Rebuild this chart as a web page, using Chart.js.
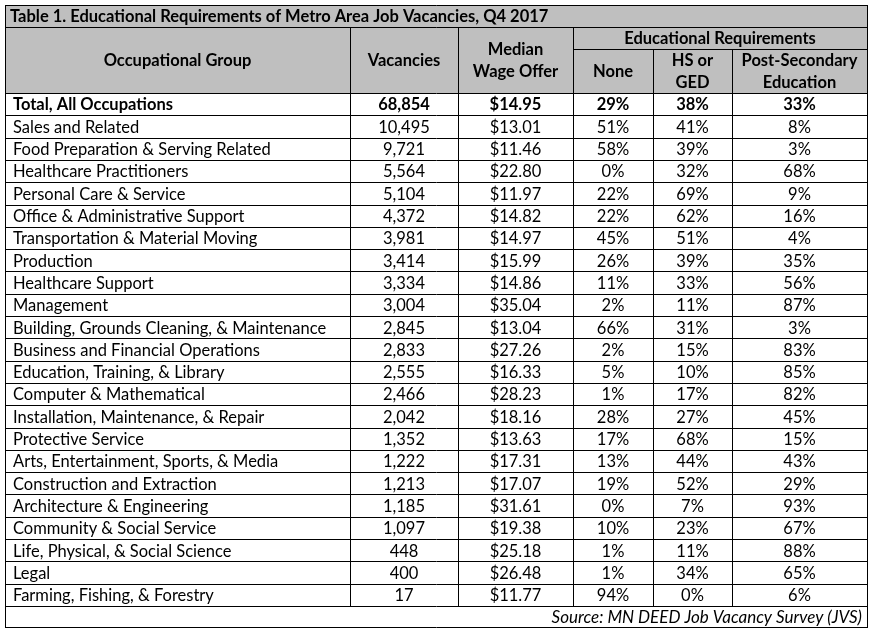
<!DOCTYPE html>
<html>
<head>
<meta charset="utf-8">
<script src="https://cdn.jsdelivr.net/npm/chart.js@4"></script>
<style>
html,body{margin:0;padding:0;background:#fff;}
#wrap{width:874px;height:634px;}
</style>
</head>
<body>
<div id="wrap"><canvas id="c" width="874" height="634"></canvas></div>
<script>
const titleText = "Table 1. Educational Requirements of Metro Area Job Vacancies, Q4 2017";
const sourceText = "Source: MN DEED Job Vacancy Survey (JVS)";
const groups = ["Total, All Occupations","Sales and Related","Food Preparation & Serving Related","Healthcare Practitioners","Personal Care & Service","Office & Administrative Support","Transportation & Material Moving","Production","Healthcare Support","Management","Building, Grounds Cleaning, & Maintenance","Business and Financial Operations","Education, Training, & Library","Computer & Mathematical","Installation, Maintenance, & Repair","Protective Service","Arts, Entertainment, Sports, & Media","Construction and Extraction","Architecture & Engineering","Community & Social Service","Life, Physical, & Social Science","Legal","Farming, Fishing, & Forestry"];
const vacancies = [68854,10495,9721,5564,5104,4372,3981,3414,3334,3004,2845,2833,2555,2466,2042,1352,1222,1213,1185,1097,448,400,17];
const wages = [14.95,13.01,11.46,22.80,11.97,14.82,14.97,15.99,14.86,35.04,13.04,27.26,16.33,28.23,18.16,13.63,17.31,17.07,31.61,19.38,25.18,26.48,11.77];
const eduNone = [29,51,58,0,22,22,45,26,11,2,66,2,5,1,28,17,13,19,0,10,1,1,94];
const eduHS = [38,41,39,32,69,62,51,39,33,11,31,15,10,17,27,68,44,52,7,23,11,34,0];
const eduPost = [33,8,3,68,9,16,4,35,56,87,3,83,85,82,45,15,43,29,93,67,88,65,6];

const FONT = "Lato, 'Open Sans', sans-serif";
const colEdges = [5,350,458,573,653,732,867];
const yTop = 5, yTitle = 27, yEdu = 49, yHead = 93, yBottom = 627;
const HEAD_BG = "#bfbfbf";

const tablePlugin = {
  id: 'tablePlugin',
  afterDraw(chart) {
    const ctx = chart.ctx;
    const xs = chart.scales.x, ys = chart.scales.y;
    const X = colEdges.map(v => Math.round(xs.getPixelForValue(v)));
    const n = groups.length;
    const rowH = (ys.getPixelForValue(1) - ys.getPixelForValue(0));
    const rowTop = i => Math.round(ys.getPixelForValue(i) - rowH/2);
    const dataBottom = rowTop(n);
    ctx.save();
    ctx.fillStyle = HEAD_BG;
    ctx.fillRect(X[0], yTop, X[6]-X[0], yHead - yTop);
    ctx.strokeStyle = "#000";
    ctx.lineWidth = 1;
    const hl = (x1,x2,y) => { ctx.beginPath(); ctx.moveTo(x1, y+0.5); ctx.lineTo(x2+1, y+0.5); ctx.stroke(); };
    const vl = (x,y1,y2) => { ctx.beginPath(); ctx.moveTo(x+0.5, y1); ctx.lineTo(x+0.5, y2+1); ctx.stroke(); };
    hl(X[0], X[6], yTop);
    hl(X[0], X[6], yTitle);
    hl(X[3], X[6], yEdu);
    hl(X[0], X[6], yHead);
    for (let i = 1; i <= n; i++) hl(X[0], X[6], rowTop(i));
    hl(X[0], X[6], yBottom);
    vl(X[0], yTop, yBottom);
    vl(X[6], yTop, yBottom);
    vl(X[1], yTitle, dataBottom);
    vl(X[2], yTitle, dataBottom);
    vl(X[3], yTitle, dataBottom);
    vl(X[4], yEdu, dataBottom);
    vl(X[5], yEdu, dataBottom);

    ctx.fillStyle = "#000";
    ctx.textBaseline = "middle";
    const bold = "bold 16.5px " + FONT, reg = "16.5px " + FONT;
    ctx.font = bold; ctx.textAlign = "left";
    ctx.fillText(titleText, X[0]+5, (yTop+yTitle)/2+1);
    ctx.textAlign = "center";
    const cx = i => (X[i]+X[i+1])/2;
    const hm = (yTitle+yHead)/2 + 1;
    ctx.fillText("Occupational Group", cx(0), hm);
    ctx.fillText("Vacancies", cx(1), hm);
    ctx.fillText("Median", cx(2), hm - 11);
    ctx.fillText("Wage Offer", cx(2), hm + 11);
    ctx.fillText("Educational Requirements", (X[3]+X[6])/2, (yTitle+yEdu)/2+1);
    const sm = (yEdu+yHead)/2 + 1;
    ctx.fillText("None", cx(3), sm);
    ctx.fillText("HS or", cx(4), sm - 11);
    ctx.fillText("GED", cx(4), sm + 11);
    ctx.fillText("Post-Secondary", cx(5), sm - 11);
    ctx.fillText("Education", cx(5), sm + 11);
    for (let i = 0; i < n; i++) {
      const y = ys.getPixelForValue(i) + 1;
      ctx.font = i === 0 ? bold : reg;
      ctx.textAlign = "left";
      ctx.fillText(groups[i], X[0]+8, y);
      ctx.textAlign = "center";
      ctx.fillText(vacancies[i].toLocaleString('en-US'), cx(1), y);
      ctx.fillText("$" + wages[i].toFixed(2), cx(2), y);
      ctx.fillText(eduNone[i] + "%", cx(3), y);
      ctx.fillText(eduHS[i] + "%", cx(4), y);
      ctx.fillText(eduPost[i] + "%", cx(5), y);
    }
    ctx.font = "italic 17px " + FONT;
    ctx.textAlign = "right";
    ctx.fillText(sourceText, X[6]-5, (dataBottom+yBottom)/2+1);
    ctx.restore();
  }
};

new Chart(document.getElementById('c'), {
  type: 'bar',
  data: {
    labels: groups,
    datasets: [{ data: vacancies.map(() => null), backgroundColor: 'rgba(0,0,0,0)' }]
  },
  options: {
    indexAxis: 'y',
    responsive: false,
    animation: false,
    events: [],
    layout: { padding: { top: yHead, bottom: 634 - 606, left: 5, right: 874 - 867 } },
    plugins: { legend: { display: false }, tooltip: { enabled: false }, title: { display: false } },
    scales: {
      x: { type: 'linear', display: false, min: colEdges[0], max: colEdges[6] },
      y: { type: 'category', display: false, offset: true }
    }
  },
  plugins: [tablePlugin]
});
</script>
</body>
</html>
